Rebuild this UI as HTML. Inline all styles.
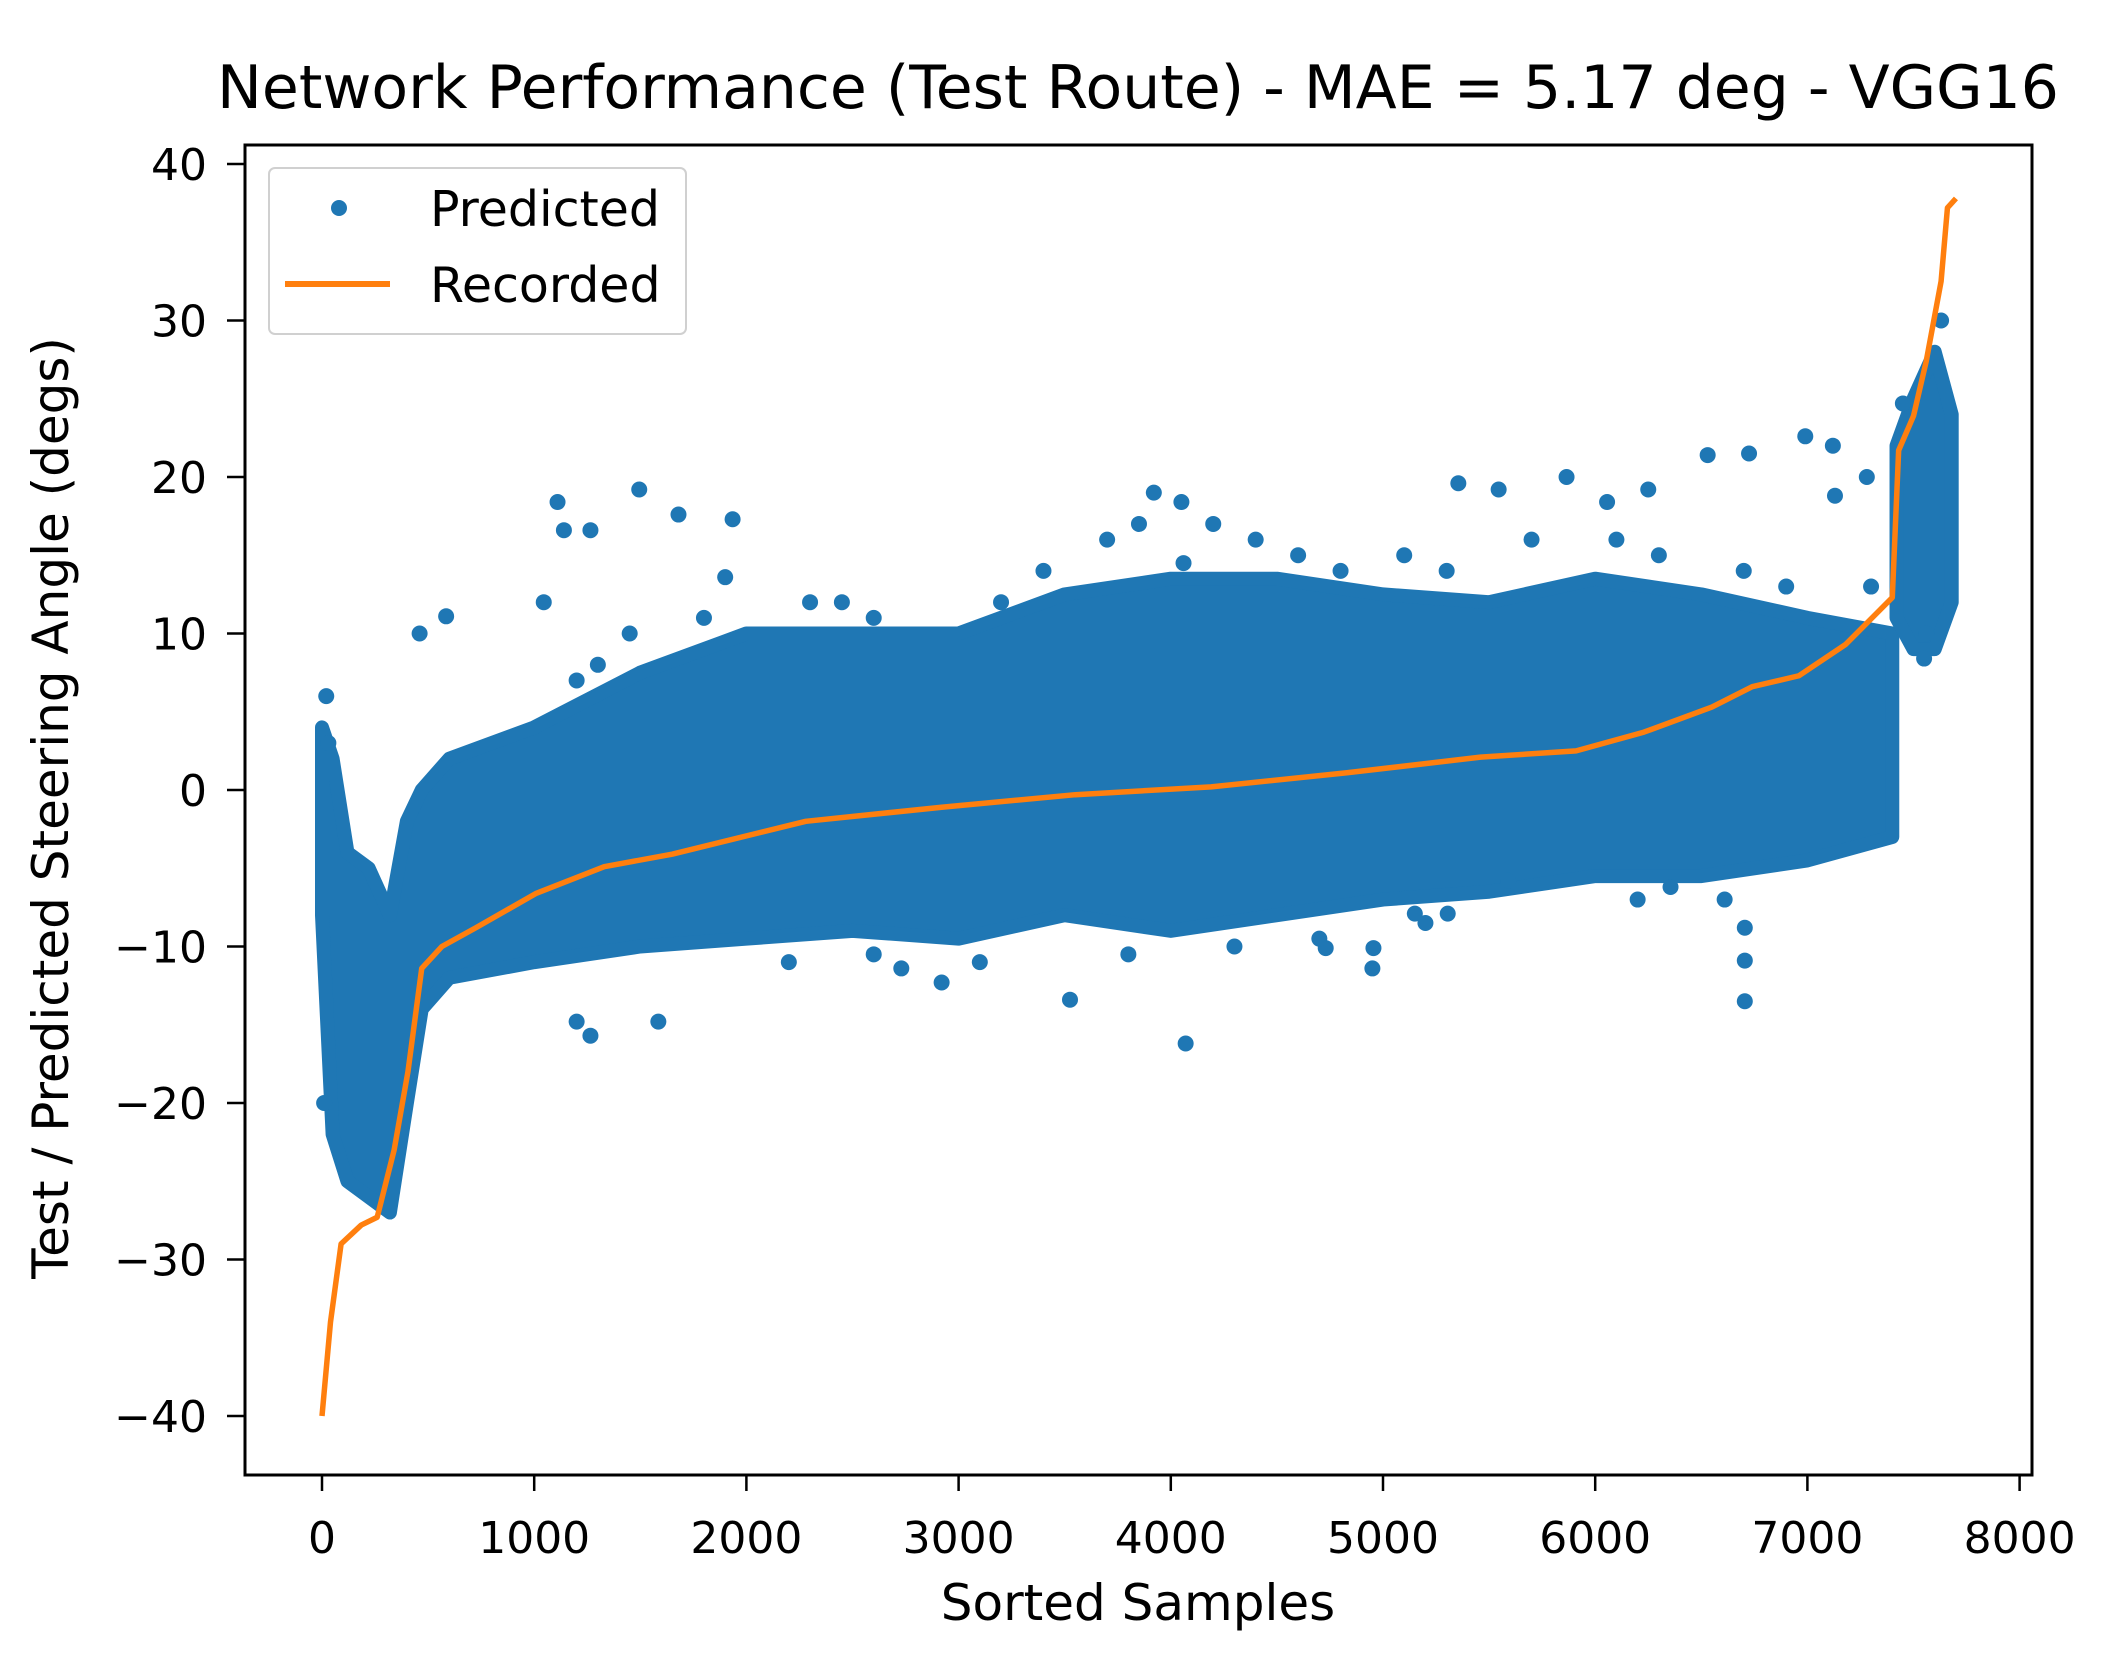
<!DOCTYPE html>
<html><head><meta charset="utf-8">
<style>
html,body{margin:0;padding:0;background:#fff;}
svg{display:block;font-family:"DejaVu Sans","Liberation Sans",sans-serif;}
</style></head>
<body>
<svg id="chart" width="2102" height="1677" viewBox="0 0 2102 1677" xmlns="http://www.w3.org/2000/svg">
<rect width="2102" height="1677" fill="#fff"/>
<text x="1138" y="108" font-size="60" text-anchor="middle" fill="#000">Network Performance (Test Route) - MAE = 5.17 deg - VGG16</text>
<g id="plot"></g>
<g id="axes"></g>
<text x="1138" y="1620" font-size="50" text-anchor="middle" fill="#000">Sorted Samples</text>
<text transform="translate(68,808) rotate(-90)" font-size="50" text-anchor="middle" fill="#000">Test / Predicted Steering Angle (degs)</text>
<g>
<rect x="269" y="168" width="417" height="166" rx="6" fill="#fff" fill-opacity="0.8" stroke="#d0d0d0" stroke-width="2"/>
<circle cx="339" cy="208" r="8" fill="#1f77b4"/>
<text x="430" y="226" font-size="49" fill="#000">Predicted</text>
<line x1="285" y1="284" x2="390" y2="284" stroke="#ff7f0e" stroke-width="6"/>
<text x="430" y="302" font-size="49" fill="#000">Recorded</text>
</g>
</svg>
<script>
const xTicks = [0,1000,2000,3000,4000,5000,6000,7000,8000];
const yTicks = [-40,-30,-20,-10,0,10,20,30,40];
const yTickLabels = ["\u221240","\u221230","\u221220","\u221210","0","10","20","30","40"];
// dense cloud envelope of predicted points
const cloudX = [0,50,120,220,320,400,470,600,1000,1500,2000,2500,3000,3500,4000,4500,5000,5500,6000,6500,7000,7400];
const cloudUpper = [4,2,-4,-5,-8,-2,0,2,4,7.5,10,10,10,12.5,13.5,13.5,12.5,12,13.5,12.5,11,10];
const cloudLower = [-8,-22,-25,-26,-27,-20,-14,-12,-11,-10,-9.5,-9,-9.5,-8,-9,-8,-7,-6.5,-5.5,-5.5,-4.5,-3];
const tailX = [7420,7500,7600,7680];
const tailUpper = [22,25,28,24];
const tailLower = [11,9,9,12];
// individual outlying predicted points
const outX = [1110,1140,1265,1495,1680,1935,1900,1045,585,460,3920,4050,4060,5355,5545,5865,6056,6250,6530,6725,6990,7120,7130,7280,6705,6705,6705,6610,4070,3525,4955,4950,4730,5150,5305,1265,1585,1200,2920,2730,5590,6355,7450,7630,7550,7560,20,30,10,1200,1300,1450,1800,2300,2450,2600,3200,3400,3700,3850,4200,4400,4600,4800,5100,5300,5700,6100,6300,6700,6900,7300,2200,2600,3100,3800,4300,4700,5200,6200];
const outY = [18.4,16.6,16.6,19.2,17.6,17.3,13.6,12,11.1,10,19,18.4,14.5,19.6,19.2,20,18.4,19.2,21.4,21.5,22.6,22,18.8,20,-13.5,-10.9,-8.8,-7,-16.2,-13.4,-10.1,-11.4,-10.1,-7.9,-7.9,-15.7,-14.8,-14.8,-12.3,-11.4,-5.8,-6.2,24.7,30,8.4,10,6,3,-20,7,8,10,11,12,12,11,12,14,16,17,17,16,15,14,15,14,16,16,15,14,13,13,-11,-10.5,-11,-10.5,-10,-9.5,-8.5,-7];
// recorded (sorted) steering angle
const recX = [0,40,90,185,260,340,405,470,565,725,1010,1330,1650,2280,2920,3550,4190,4830,5460,5910,6230,6550,6740,6960,7180,7400,7430,7500,7560,7630,7660,7700];
const recY = [-40,-34,-29,-27.8,-27.3,-23,-18,-11.4,-10,-8.8,-6.6,-4.9,-4.1,-2,-1.1,-0.3,0.2,1.1,2.1,2.5,3.7,5.3,6.6,7.3,9.3,12.3,21.7,23.9,27.4,32.5,37.2,37.8];

const NS = "http://www.w3.org/2000/svg";
const X = v => 322 + v * 0.2122;
const Y = v => 790 - v * 15.65;
const L = 245, R = 2032, T = 145, B = 1475;
function mk(tag, attrs, parent){const e=document.createElementNS(NS,tag);for(const k in attrs)e.setAttribute(k,attrs[k]);parent.appendChild(e);return e;}
const plot = document.getElementById('plot');
const axes = document.getElementById('axes');

function band(xs, up, lo, name){
  let pts = xs.map((x,i)=>X(x)+','+Y(up[i]));
  for(let i=xs.length-1;i>=0;i--) pts.push(X(xs[i])+','+Y(lo[i]));
  const p = mk('polygon',{points:pts.join(' '),fill:'#1f77b4',stroke:'#1f77b4','stroke-width':14,'stroke-linejoin':'round'},plot);
  
  
}
band(cloudX, cloudUpper, cloudLower, 'predicted-cloud');
band(tailX, tailUpper, tailLower, 'predicted-cloud-tail');
outX.forEach((x,i)=>{
  const c = mk('circle',{cx:X(x),cy:Y(outY[i]),r:8,fill:'#1f77b4'},plot);
  
  
});
const line = mk('polyline',{points:recX.map((x,i)=>X(x)+','+Y(recY[i])).join(' '),fill:'none',stroke:'#ff7f0e','stroke-width':5.5,'stroke-linejoin':'round'},plot);



const frame = mk('rect',{x:L,y:T,width:R-L,height:B-T,fill:'none',stroke:'#000','stroke-width':3},axes);


xTicks.forEach(v=>{
  const t = mk('line',{x1:X(v),x2:X(v),y1:B,y2:B+16,stroke:'#000','stroke-width':2.5},axes);
  
  
  const s = mk('text',{x:X(v),y:B+78,'font-size':44,'text-anchor':'middle',fill:'#000'},axes);
  s.textContent = String(v);
  
  
});
yTicks.forEach((v,i)=>{
  const t = mk('line',{x1:L-18,x2:L,y1:Y(v),y2:Y(v),stroke:'#000','stroke-width':2.5},axes);
  
  
  const s = mk('text',{x:L-38,y:Y(v)+16,'font-size':44,'text-anchor':'end',fill:'#000'},axes);
  s.textContent = yTickLabels[i];
  
  
});
</script>
</body></html>
